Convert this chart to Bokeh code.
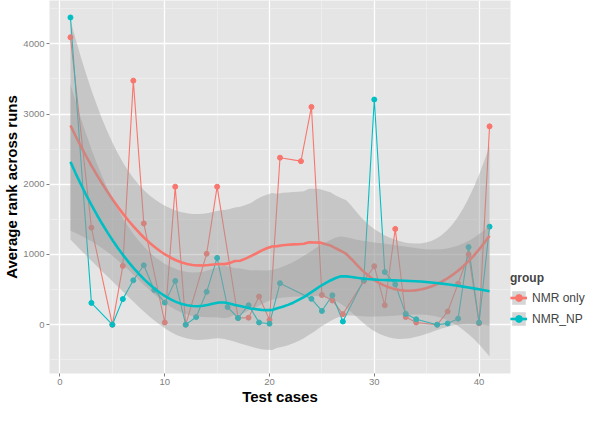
import numpy as np
from bokeh.plotting import figure
from bokeh.models import (Range1d, SingleIntervalTicker, Legend, LegendItem,
                          ColumnDataSource)
from bokeh.embed import file_html
from bokeh.resources import INLINE

# ---------------- data ----------------
groups = ["NMR only", "NMR_NP"]
colors = ["#F8766D", "#00BFC4"]

nmr_only_x = [1, 3, 5, 6, 7, 8, 10, 11, 12, 14, 15, 17, 18, 19, 20, 21, 23, 24,
              25, 26, 27, 29, 30, 31, 32, 33, 34, 36, 37, 38, 39, 40, 41]
nmr_only_y = [4093, 1382, 0, 837, 3475, 1442, 31, 1965, 0, 1010, 1965, 95, 100,
              400, 68, 2378, 2329, 3101, 423, 345, 150, 620, 832, 277, 1364,
              109, 31, 0, 187, 583, 1000, 20, 2824]

nmr_np_x = [1, 3, 5, 6, 7, 8, 9, 10, 11, 12, 13, 14, 15, 16, 17, 18, 19, 20, 21,
            24, 25, 26, 27, 29, 30, 31, 32, 33, 34, 36, 37, 38, 39, 40, 41]
nmr_np_y = [4375, 310, 0, 364, 632, 846, 495, 314, 623, 0, 109, 468, 951, 250,
            95, 277, 31, 14, 591, 368, 195, 419, 45, 637, 3206, 750, 573, 154,
            77, 0, 18, 86, 1105, 30, 1396]

x_ticks = [0, 10, 20, 30, 40]
y_ticks = [0, 1000, 2000, 3000, 4000]


# ---------------- loess smoother (as geom_smooth: span .75, degree 2, 95% CI) ----
def t_quantile(df, z=1.959963985):
    g1 = (z**3 + z) / 4
    g2 = (5*z**5 + 16*z**3 + 3*z) / 96
    g3 = (3*z**7 + 19*z**5 + 17*z**3 - 15*z) / 384
    g4 = (79*z**9 + 776*z**7 + 1482*z**5 - 1920*z**3 - 945*z) / 92160
    return z + g1/df + g2/df**2 + g3/df**3 + g4/df**4


def loess(x, y, xnew, span=0.75):
    x = np.asarray(x, float)
    y = np.asarray(y, float)
    n = len(x)
    q = int(np.floor(n * span))

    def op(x0):
        d = np.abs(x - x0)
        h = np.sort(d)[q - 1]
        u = np.clip(d / h, 0, 1)
        w = (1 - u**3)**3
        X = np.vstack([np.ones(n), x - x0, (x - x0)**2]).T
        XtW = X.T * w
        return np.linalg.solve(XtW @ X, XtW)[0]

    L = np.array([op(v) for v in x])
    Ln = np.array([op(v) for v in xnew])
    fit = Ln @ y
    res = y - L @ y
    IL = np.eye(n) - L
    M = IL.T @ IL
    one = np.trace(M)
    two = np.trace(M @ M)
    s = np.sqrt(np.sum(res**2) / one)
    se = s * np.sqrt(np.sum(Ln**2, axis=1))
    t = t_quantile(one**2 / two)
    return fit, fit - t*se, fit + t*se


series = [(nmr_only_x, nmr_only_y), (nmr_np_x, nmr_np_y)]
smooths = []
for xs, ys in series:
    grid = np.linspace(min(xs), max(xs), 80)
    f, lo, hi = loess(xs, ys, grid)
    smooths.append((grid, f, lo, hi))

all_lo = min(min(min(ys) for _, ys in series), min(s[2].min() for s in smooths))
all_hi = max(max(max(ys) for _, ys in series), max(s[3].max() for s in smooths))
pad = 0.05 * (all_hi - all_lo)
xmin = min(min(xs) for xs, _ in series)
xmax = max(max(xs) for xs, _ in series)
xpad = 0.05 * (xmax - xmin)

# ---------------- figure ----------------
FONT = "Liberation Sans"
p = figure(frame_width=461, frame_height=373, output_backend="svg",
           toolbar_location=None,
           x_range=Range1d(xmin - xpad, xmax + xpad),
           y_range=Range1d(all_lo - pad, all_hi + pad),
           min_border_left=37, min_border_top=0, min_border_bottom=0,
           min_border_right=0)
p.background_fill_color = "#E5E5E5"
p.border_fill_color = "white"
p.outline_line_color = None

p.xaxis.ticker = SingleIntervalTicker(interval=10, num_minor_ticks=2)
p.yaxis.ticker = SingleIntervalTicker(interval=1000, num_minor_ticks=2)
p.xaxis.major_label_overrides = {v: str(v) for v in x_ticks}
p.yaxis.major_label_overrides = {v: str(v) for v in y_ticks}

for ax in (p.xaxis[0], p.yaxis[0]):
    ax.axis_line_color = None
    ax.major_tick_line_color = "#7F7F7F"
    ax.major_tick_out = 3
    ax.major_tick_in = 0
    ax.minor_tick_line_color = None
    ax.major_label_text_color = "#7F7F7F"
    ax.major_label_text_font = FONT
    ax.major_label_text_font_size = "9.5px"
    ax.major_label_standoff = 1
    ax.axis_label_text_font = FONT
    ax.axis_label_text_font_size = "15px"
    ax.axis_label_text_font_style = "bold"
    ax.axis_label_text_color = "black"
    ax.axis_label_standoff = 0
p.xaxis.axis_label = "Test cases"
p.yaxis.axis_label = "Average rank across runs"

for g in (p.xgrid[0], p.ygrid[0]):
    g.grid_line_color = "white"
    g.grid_line_width = 1.3
    g.minor_grid_line_color = "#F2F2F2"
    g.minor_grid_line_width = 0.6

# data lines and points
line_r, pt_r = [], []
for (xs, ys), c in zip(series, colors):
    src = ColumnDataSource(dict(x=xs, y=ys))
    line_r.append(p.line("x", "y", source=src, line_color=c, line_width=1.1))
for (xs, ys), c in zip(series, colors):
    src = ColumnDataSource(dict(x=xs, y=ys))
    pt_r.append(p.scatter("x", "y", source=src, size=5, fill_color=c,
                          line_color=c))

# smooths (ribbon then line, per group)
rib_r, sm_r = [], []
for (grid, f, lo, hi), c in zip(smooths, colors):
    rib_r.append(p.varea(x=grid, y1=lo, y2=hi, fill_color="#999999",
                         fill_alpha=0.4))
    sm_r.append(p.line(x=grid, y=f, line_color=c, line_width=2.6))

items = [LegendItem(label=groups[i], renderers=[rib_r[i], line_r[i], pt_r[i],
                                                 sm_r[i]])
         for i in range(2)]
legend = Legend(items=items, title="group", location=(0, 46), margin=0,
                background_fill_alpha=0, border_line_color=None,
                padding=5, spacing=4, glyph_width=17, glyph_height=17,
                label_standoff=5, title_standoff=4,
                label_text_font=FONT, label_text_font_size="12px",
                title_text_font=FONT, title_text_font_size="12px",
                title_text_font_style="bold")
p.add_layout(legend, "right")

open("out.html", "w").write(file_html(p, INLINE))
